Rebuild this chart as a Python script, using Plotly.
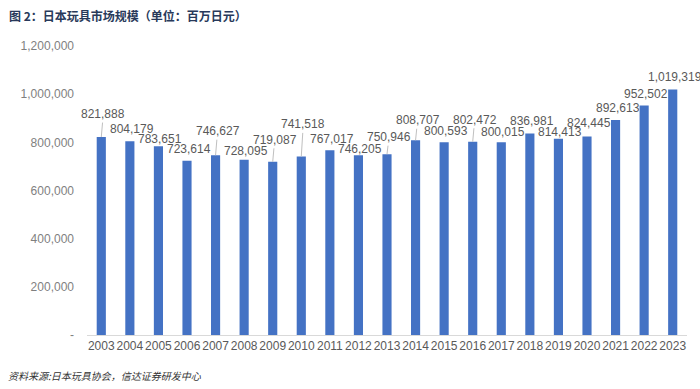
import plotly.graph_objects as go

years = [str(y) for y in range(2003, 2024)]
market_size = [821888, 804179, 783651, 723614, 746627, 728095, 719087, 741518,
               767017, 746205, 750946, 808707, 800593, 802472, 800015, 836981,
               814413, 824445, 892613, 952502, 1019319]

# label placement (pixels above bar top) and whether a leader line is drawn
label_shift = [23, 12, 7, 12, 24, 9, 22, 32, 11, 6, 17, 20, 11, 22, 10, 12, 7, 13, 12, 12, 13]
label_leader = [True, False, False, False, True, False, True, True, False, False, True,
                True, False, True, False, False, False, False, False, False, False]

y_tickvals = [0, 200000, 400000, 600000, 800000, 1000000, 1200000]
y_ticktext = ["-", "200,000", "400,000", "600,000", "800,000", "1,000,000", "1,200,000"]

title_text = "图 2：日本玩具市场规模（单位：百万日元）"
source_text = "资料来源:日本玩具协会，信达证券研发中心"

num_font = "Liberation Sans, Arial"

fig = go.Figure()
fig.add_trace(go.Bar(x=years, y=market_size, marker_color="#4472C4",
                     marker_line_width=0, hoverinfo="x+y"))

annotations = []
for i, (v, s, lead) in enumerate(zip(market_size, label_shift, label_leader)):
    txt = f"{v:,}"
    if lead:
        annotations.append(dict(x=i, y=v, xref="x", yref="y", text=txt,
                                showarrow=True, arrowhead=0, arrowwidth=1,
                                arrowcolor="#bfbfbf", ax=2, ay=-s, standoff=0,
                                font=dict(family=num_font, size=12, color="#595959")))
    else:
        annotations.append(dict(x=i, y=v, xref="x", yref="y", text=txt,
                                showarrow=False, yanchor="middle", yshift=s, xshift=2,
                                font=dict(family=num_font, size=12, color="#595959")))

annotations.append(dict(x=0, y=1, xref="paper", yref="paper", xanchor="left", yanchor="middle",
                        text="<b>" + title_text + "</b>", showarrow=False,
                        xshift=-80, yshift=31,
                        font=dict(family="Noto Sans CJK SC", size=12, color="#28395a")))
annotations.append(dict(x=0, y=0, xref="paper", yref="paper", xanchor="left", yanchor="middle",
                        text="<i>" + source_text + "</i>", showarrow=False,
                        xshift=-81, yshift=-40,
                        font=dict(family="Noto Sans CJK SC", size=10, color="#333333")))

fig.update_layout(
    width=700, height=389,
    margin=dict(l=87, r=13, t=46, b=54),
    paper_bgcolor="white", plot_bgcolor="white",
    showlegend=False,
    bargap=0.68,
    annotations=annotations,
    xaxis=dict(type="category", showgrid=False, showline=True, linecolor="#d9d9d9",
               linewidth=1, ticks="", tickangle=0, automargin=False,
               tickfont=dict(family=num_font, size=12, color="#595959"),
               range=[-0.5, 20.5]),
    yaxis=dict(range=[0, 1200000], tickvals=y_tickvals, ticktext=y_ticktext,
               showgrid=False, zeroline=False, showline=False, ticks="",
               automargin=False, ticklabelstandoff=12,
               tickfont=dict(family=num_font, size=12, color="#7f7f7f")),
)

fig.write_html("out.html", config={"displayModeBar": False},
               post_script="document.body.style.margin='0';")
